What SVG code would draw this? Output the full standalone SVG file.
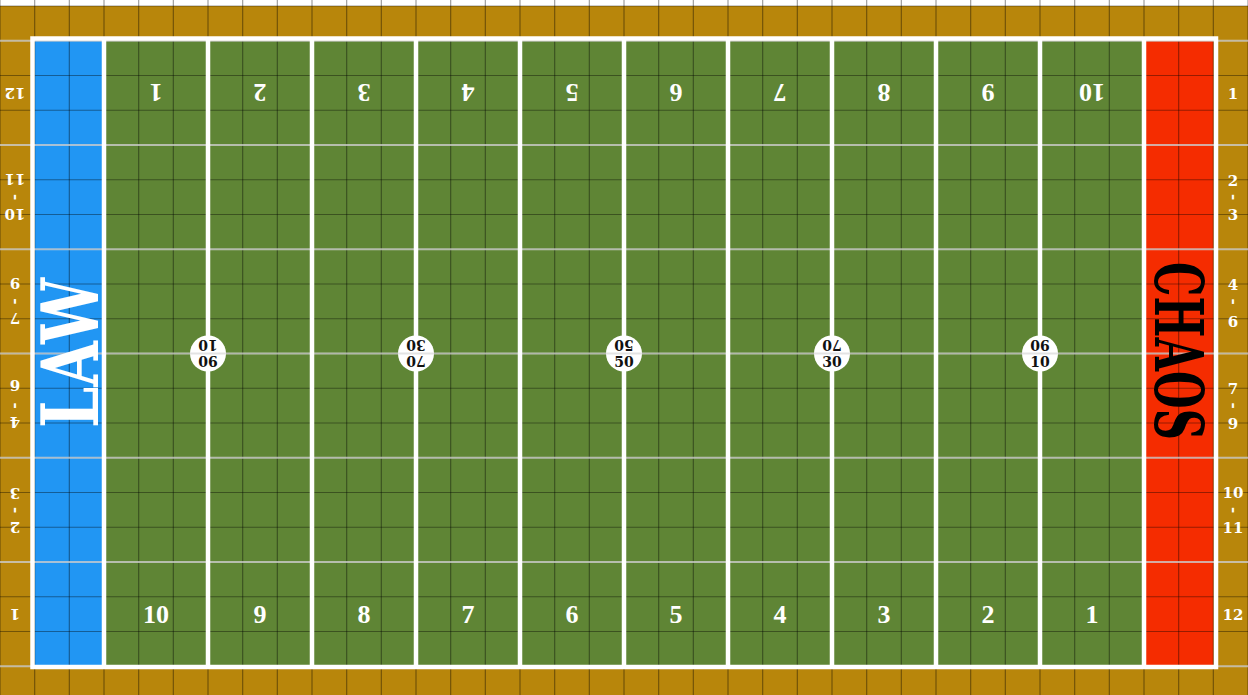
<svg xmlns="http://www.w3.org/2000/svg" width="1248" height="695" viewBox="0 0 1248 695">
<style>
.grid{stroke:#000;stroke-opacity:0.38;stroke-width:1.2;fill:none}
.lite{stroke:#d9d9d9;stroke-opacity:0.75;stroke-width:2;fill:none}
.wl{stroke:#fff;stroke-width:4.5;fill:none}
.yn{font-family:"Liberation Serif",serif;font-weight:bold;font-size:26px;fill:#fff;text-anchor:middle}
.mg{font-family:"DejaVu Serif",serif;font-weight:bold;font-size:15px;fill:#fff;text-anchor:middle}
.ci{font-family:"DejaVu Serif",serif;font-weight:bold;font-size:14px;fill:#111;text-anchor:middle}
.big{font-family:"DejaVu Serif","Liberation Serif",serif;font-weight:bold;text-anchor:middle}
.mk{fill:#fff}
</style>
<rect x="0" y="0" width="1248" height="695" fill="#fff"/>
<rect x="0" y="6" width="1248" height="689" fill="#b8860b"/>
<g id="field">
<rect x="34.67" y="40.75" width="1109.33" height="625.5" fill="#5f8535"/>
<rect id="law-zone" x="34.67" y="40.75" width="69.33" height="625.5" fill="#2196f3"/>
<rect id="chaos-zone" x="1144" y="40.75" width="69.33" height="625.5" fill="#f52c00"/>
</g>
<g id="grid">
<path class="grid" d="M0 0V695M34.67 0V695M69.33 0V695M104 0V695M138.67 0V695M173.33 0V695M208 0V695M242.67 0V695M277.33 0V695M312 0V695M346.67 0V695M381.33 0V695M416 0V695M450.67 0V695M485.33 0V695M520 0V695M554.67 0V695M589.33 0V695M624 0V695M658.67 0V695M693.33 0V695M728 0V695M762.67 0V695M797.33 0V695M832 0V695M866.67 0V695M901.33 0V695M936 0V695M970.67 0V695M1005.33 0V695M1040 0V695M1074.67 0V695M1109.33 0V695M1144 0V695M1178.67 0V695M1213.33 0V695M1248 0V695"/>
<path class="grid" d="M0 6H1248M0 40.75H1248M0 75.5H1248M0 110.25H1248M0 145H1248M0 179.75H1248M0 214.5H1248M0 249.25H1248M0 284H1248M0 318.75H1248M0 353.5H1248M0 388.25H1248M0 423H1248M0 457.75H1248M0 492.5H1248M0 527.25H1248M0 562H1248M0 596.75H1248M0 631.5H1248M0 666.25H1248"/>
<path class="lite" d="M0 40.75H1248M0 145H1248M0 249.25H1248M0 353.5H1248M0 457.75H1248M0 562H1248M0 666.25H1248"/>
</g>
<g id="lines">
<rect class="wl" x="32.5" y="38.5" width="1183.5" height="628.5"/>
<path class="wl" d="M104 40V667M1144 40V667"/>
<path class="wl" d="M208 40V667M312 40V667M416 40V667M520 40V667M624 40V667M728 40V667M832 40V667M936 40V667M1040 40V667" stroke-width="4"/>
</g>
<g id="markers">
<circle class="mk" cx="208" cy="353.5" r="18"/>
<circle class="mk" cx="416" cy="353.5" r="18"/>
<circle class="mk" cx="624" cy="353.5" r="18"/>
<circle class="mk" cx="832" cy="353.5" r="18"/>
<circle class="mk" cx="1040" cy="353.5" r="18"/>
<path class="lite" d="M190 353.5H226M398 353.5H434M606 353.5H642M814 353.5H850M1022 353.5H1058"/>
<text class="ci" transform="rotate(180 208 345)" x="208" y="350.1">10</text>
<text class="ci" transform="rotate(180 208 361.5)" x="208" y="366.6">90</text>
<text class="ci" transform="rotate(180 416 345)" x="416" y="350.1">30</text>
<text class="ci" transform="rotate(180 416 361.5)" x="416" y="366.6">70</text>
<text class="ci" transform="rotate(180 624 345)" x="624" y="350.1">50</text>
<text class="ci" x="624" y="366.6">50</text>
<text class="ci" transform="rotate(180 832 345)" x="832" y="350.1">70</text>
<text class="ci" x="832" y="366.6">30</text>
<text class="ci" transform="rotate(180 1040 345)" x="1040" y="350.1">90</text>
<text class="ci" x="1040" y="366.6">10</text>
</g>
<g id="yard-numbers-bottom">
<text class="yn" x="156" y="622.6">10</text>
<text class="yn" x="260" y="622.6">9</text>
<text class="yn" x="364" y="622.6">8</text>
<text class="yn" x="468" y="622.6">7</text>
<text class="yn" x="572" y="622.6">6</text>
<text class="yn" x="676" y="622.6">5</text>
<text class="yn" x="780" y="622.6">4</text>
<text class="yn" x="884" y="622.6">3</text>
<text class="yn" x="988" y="622.6">2</text>
<text class="yn" x="1092" y="622.6">1</text>
</g>
<g id="yard-numbers-top" transform="rotate(180 624 353.5)">
<text class="yn" x="156" y="622.6">10</text>
<text class="yn" x="260" y="622.6">9</text>
<text class="yn" x="364" y="622.6">8</text>
<text class="yn" x="468" y="622.6">7</text>
<text class="yn" x="572" y="622.6">6</text>
<text class="yn" x="676" y="622.6">5</text>
<text class="yn" x="780" y="622.6">4</text>
<text class="yn" x="884" y="622.6">3</text>
<text class="yn" x="988" y="622.6">2</text>
<text class="yn" x="1092" y="622.6">1</text>
</g>
<g id="margin-right">
<text class="mg" x="1233" y="98.5">1</text>
<text class="mg" x="1233" y="185.5">2</text>
<text class="mg" transform="rotate(90 1233 197)" x="1233" y="201.3">-</text>
<text class="mg" x="1233" y="219.5">3</text>
<text class="mg" x="1233" y="290">4</text>
<text class="mg" transform="rotate(90 1233 301.5)" x="1233" y="305.8">-</text>
<text class="mg" x="1233" y="327">6</text>
<text class="mg" x="1233" y="393.6">7</text>
<text class="mg" transform="rotate(90 1233 405.6)" x="1233" y="409.9">-</text>
<text class="mg" x="1233" y="429.1">9</text>
<text class="mg" x="1233" y="498">10</text>
<text class="mg" transform="rotate(90 1233 510)" x="1233" y="514.3">-</text>
<text class="mg" x="1233" y="533">11</text>
<text class="mg" x="1233" y="619.5">12</text>
</g>
<g id="margin-left" transform="rotate(180 624 353.5)">
<text class="mg" x="1233" y="98.5">1</text>
<text class="mg" x="1233" y="185.5">2</text>
<text class="mg" transform="rotate(90 1233 197)" x="1233" y="201.3">-</text>
<text class="mg" x="1233" y="219.5">3</text>
<text class="mg" x="1233" y="290">4</text>
<text class="mg" transform="rotate(90 1233 301.5)" x="1233" y="305.8">-</text>
<text class="mg" x="1233" y="327">6</text>
<text class="mg" x="1233" y="393.6">7</text>
<text class="mg" transform="rotate(90 1233 405.6)" x="1233" y="409.9">-</text>
<text class="mg" x="1233" y="429.1">9</text>
<text class="mg" x="1233" y="498">10</text>
<text class="mg" transform="rotate(90 1233 510)" x="1233" y="514.3">-</text>
<text class="mg" x="1233" y="533">11</text>
<text class="mg" x="1233" y="619.5">12</text>
</g>
<g id="law-label">
<text class="big" transform="translate(69.5 353) rotate(-90)" x="0" y="28" font-size="78" fill="#fff" textLength="150" lengthAdjust="spacingAndGlyphs">LAW</text>
</g>
<g id="chaos-label">
<text class="big" transform="translate(1180 351) rotate(90)" x="0" y="25" font-size="68" fill="#000" textLength="178" lengthAdjust="spacingAndGlyphs">CHAOS</text>
</g>
</svg>
